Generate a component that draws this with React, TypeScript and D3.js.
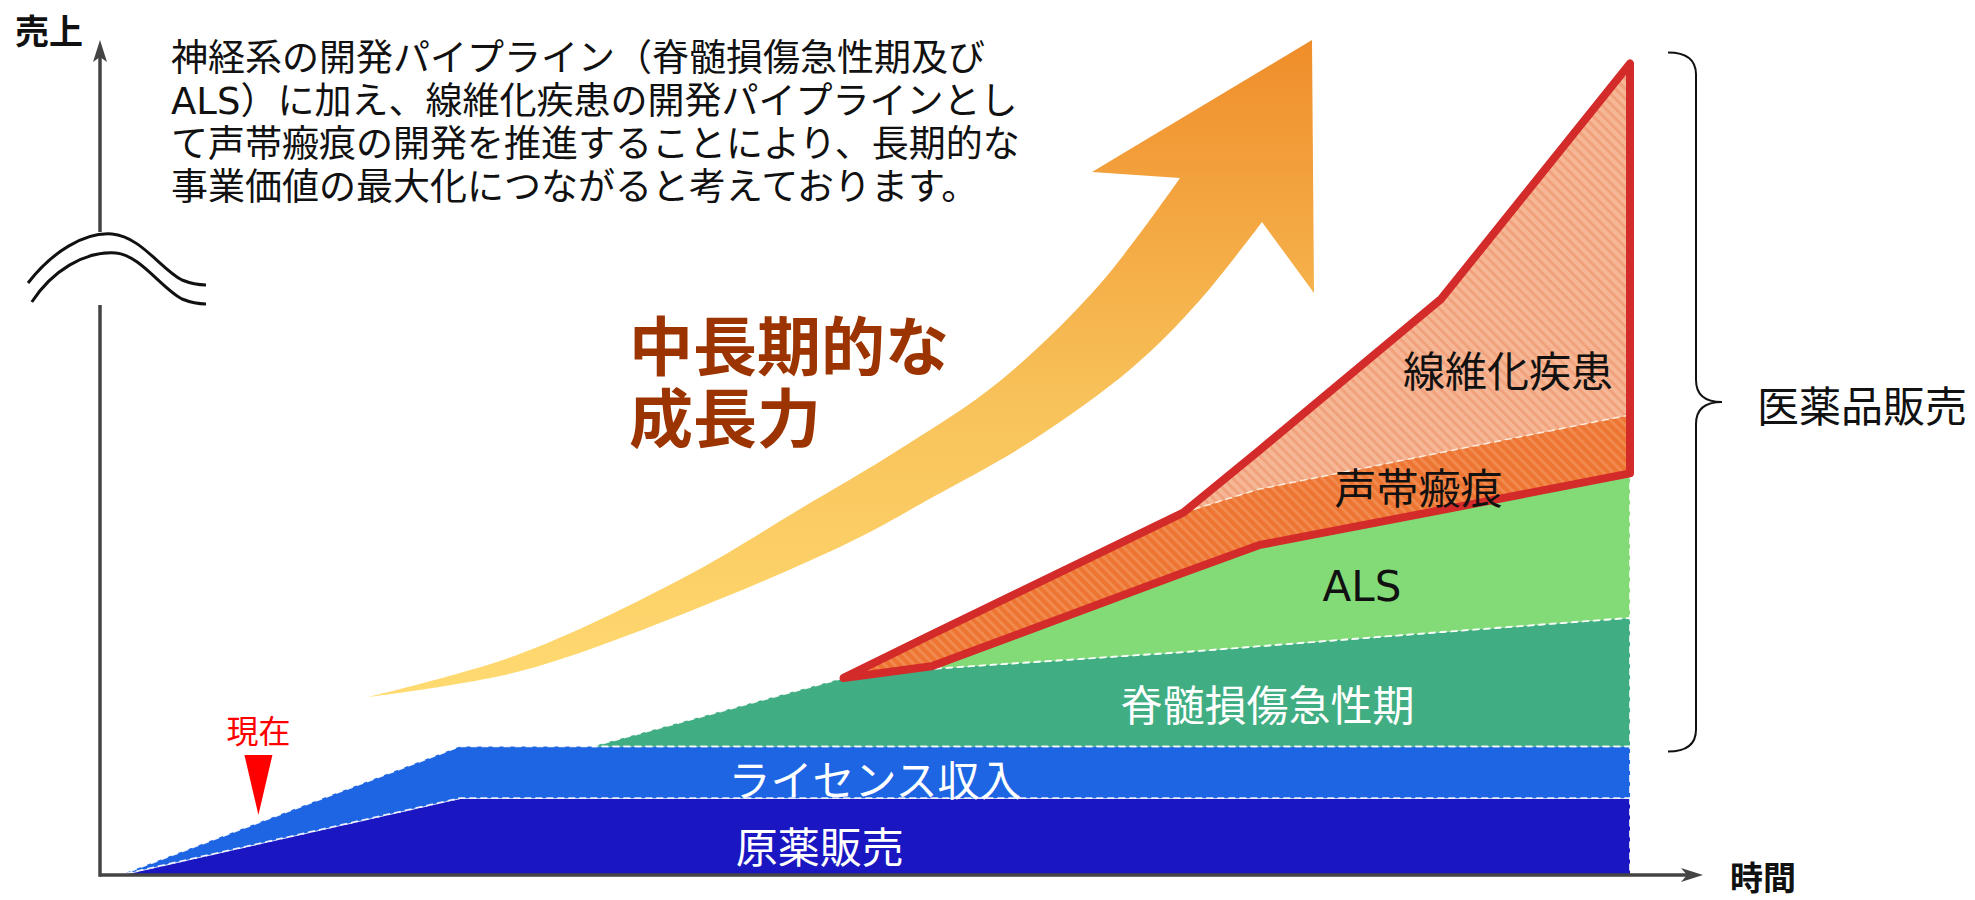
import React, { useEffect, useRef } from 'react';
import * as d3 from 'd3';

// time axis (arbitrary periods) and stacked sales per segment
const periods = [0, 2.7, 3.75, 5.75, 6.45, 8.45, 9.05, 10.5, 12];
const apiSales = [0, 9.2, 9.2, 9.2, 9.2, 9.2, 9.2, 9.2, 9.2];
const licenseIncome = [0, 6.2, 6.2, 6.2, 6.2, 6.2, 6.2, 6.2, 6.2];
const spinalAcute = [0, 0, 0, 8.2, 9.3, 11.3, 12.0, 13.7, 15.4];
const alsSales = [0, 0, 0, 0, 0.3, 9.5, 12.1, 14.6, 17.3];
const vocalScar = [0, 0, 0, 0, 3.8, 7.2, 6.7, 6.9, 7.0];
const fibrosis = [0, 0, 0, 0, 0, 0, 4.6, 18.4, 42.1];

const layerKeys = ['原薬販売', 'ライセンス収入', '脊髄損傷急性期', 'ALS', '声帯瘢痕', '線維化疾患'];
const layerValues = [apiSales, licenseIncome, spinalAcute, alsSales, vocalScar, fibrosis];

const nowPeriod = 1.1;

const descLines = [
  '神経系の開発パイプライン（脊髄損傷急性期及び',
  'ALS）に加え、線維化疾患の開発パイプラインとし',
  'て声帯瘢痕の開発を推進することにより、長期的な',
  '事業価値の最大化につながると考えております。',
];
const headline = ['中長期的な', '成長力'];

const W = 1975, H = 900;
const JP = "'Noto Sans CJK JP', sans-serif";
const MIX = "'DejaVu Sans', 'Noto Sans CJK JP', sans-serif";

export default function App() {
  const ref = useRef<SVGSVGElement>(null);

  useEffect(() => {
    const svg = d3.select(ref.current);
    svg.selectAll('*').remove();

    const x = d3.scaleLinear().domain([0, 12]).range([120, 1630]);
    const y = d3.scaleLinear().domain([0, 100]).range([875, 40]);
    const axisX = 100;

    const defs = svg.append('defs');
    const grad = defs.append('linearGradient')
      .attr('id', 'arrowGrad')
      .attr('gradientUnits', 'userSpaceOnUse')
      .attr('x1', 0).attr('y1', 40).attr('x2', 0).attr('y2', 700);
    grad.append('stop').attr('offset', '0%').attr('stop-color', '#ef8d2a');
    grad.append('stop').attr('offset', '55%').attr('stop-color', '#f8c25a');
    grad.append('stop').attr('offset', '100%').attr('stop-color', '#ffdb72');

    const hatch = (id: string, base: string, stripe: string) => {
      const p = defs.append('pattern')
        .attr('id', id)
        .attr('patternUnits', 'userSpaceOnUse')
        .attr('width', 7).attr('height', 7)
        .attr('patternTransform', 'rotate(-45)');
      p.append('rect').attr('width', 7).attr('height', 7).attr('fill', base);
      p.append('rect').attr('width', 3).attr('height', 7).attr('fill', stripe);
    };
    hatch('hatchVocal', '#ee7431', '#f18a4e');
    hatch('hatchFibro', '#f5b795', '#f1a27d');

    const fills = ['#1a16c1', '#1e65e3', '#40ae82', '#83db77', 'url(#hatchVocal)', 'url(#hatchFibro)'];

    const rows = periods.map((p, i) => {
      const r: any = { period: p };
      layerKeys.forEach((k, j) => { r[k] = layerValues[j][i]; });
      return r;
    });
    const series = d3.stack().keys(layerKeys)(rows as any);

    const area = d3.area<any>()
      .x(d => x(d.data.period))
      .y0(d => y(d[0]))
      .y1(d => y(d[1]));

    // keep only the points where a layer exists (or touches its neighbours)
    const visible = (vals: number[]) =>
      vals.map((v, i) => v > 0 || (vals[i - 1] ?? 0) > 0 || (vals[i + 1] ?? 0) > 0);

    series.forEach((s, j) => {
      const keep = visible(layerValues[j]);
      const pts = s.filter((_, i) => keep[i]);
      svg.append('path')
        .attr('d', area(pts))
        .attr('fill', fills[j])
        .attr('stroke', j < 4 ? '#ffffff' : 'none')
        .attr('stroke-width', 1.8)
        .attr('stroke-dasharray', '7 4')
        .attr('stroke-opacity', 0.9);
    });

    // boundary between 声帯瘢痕 and 線維化疾患
    const keepF = visible(fibrosis);
    const line = d3.line<any>().x(d => x(d.data.period)).y(d => y(d[1]));
    svg.append('path')
      .attr('d', line(series[4].filter((_, i) => keepF[i])))
      .attr('fill', 'none')
      .attr('stroke', '#fff3e8')
      .attr('stroke-width', 1.6)
      .attr('stroke-dasharray', '7 4')
      .attr('stroke-opacity', 0.85);

    // red outline round the two new pipelines
    const keepVocal = visible(vocalScar);
    const outlinePts = periods.map((_, i) => i).filter(i => keepVocal[i] || keepF[i]);
    const outline = d3.area<number>()
      .x(i => x(periods[i]))
      .y0(i => y(series[3][i][1]))
      .y1(i => y(series[5][i][1]));
    svg.append('path')
      .attr('d', outline(outlinePts))
      .attr('fill', 'none')
      .attr('stroke', '#d32a2a')
      .attr('stroke-width', 8)
      .attr('stroke-linejoin', 'round');

    // segment labels
    const labels = [
      { text: '原薬販売', t: 5.56, v: 3.7, color: '#fff' },
      { text: 'ライセンス収入', t: 6.0, v: 11.7, color: '#fff' },
      { text: '脊髄損傷急性期', t: 9.12, v: 20.6, color: '#fff' },
      { text: 'ALS', t: 9.87, v: 34.6, color: '#111' },
      { text: '声帯瘢痕', t: 10.32, v: 46.6, color: '#111' },
      { text: '線維化疾患', t: 11.03, v: 60.6, color: '#111' },
    ];
    labels.forEach(l => {
      svg.append('text')
        .attr('x', x(l.t))
        .attr('y', y(l.v))
        .attr('text-anchor', 'middle')
        .attr('dominant-baseline', 'central')
        .attr('fill', l.color)
        .style('font-family', l.text === 'ALS' ? MIX : JP)
        .style('font-size', '42px')
        .text(l.text);
    });

    // growth arrow
    const upperEdge: [number, number][] = [
      [368, 697], [517, 655], [683, 578], [800, 509], [900, 449], [1000, 381], [1100, 284], [1180, 178],
    ];
    const lowerEdge: [number, number][] = [
      [1262, 222], [1200, 300], [1133, 367], [1033, 440], [933, 497], [850, 542], [683, 614], [517, 672], [368, 697],
    ];
    const edge = d3.line().curve(d3.curveCatmullRom.alpha(0.5));
    const arrowPath = (edge(upperEdge) as string)
      + 'L1092,172L1312,40L1314,293'
      + (edge(lowerEdge) as string).replace(/^M/, 'L') + 'Z';
    svg.append('path').attr('d', arrowPath).attr('fill', 'url(#arrowGrad)');

    headline.forEach((t, i) => {
      svg.append('text')
        .attr('x', 629)
        .attr('y', 342 + i * 72)
        .attr('dominant-baseline', 'central')
        .attr('fill', '#9b3400')
        .style('font-family', JP)
        .style('font-weight', 700)
        .style('font-size', '64px')
        .text(t);
    });

    descLines.forEach((t, i) => {
      svg.append('text')
        .attr('x', 171)
        .attr('y', 71 + i * 43)
        .attr('fill', '#111')
        .style('font-family', MIX)
        .style('font-size', '37px')
        .text(t);
    });

    // axes
    const axisColor = '#444';
    svg.append('line')
      .attr('x1', axisX).attr('y1', y(0)).attr('x2', 1690).attr('y2', y(0))
      .attr('stroke', axisColor).attr('stroke-width', 3.5);
    svg.append('path')
      .attr('d', `M1703,${y(0)}L1681,${y(0) - 7}L1687,${y(0)}L1681,${y(0) + 7}Z`)
      .attr('fill', axisColor);
    svg.append('line')
      .attr('x1', axisX).attr('y1', y(0) + 1.75).attr('x2', axisX).attr('y2', 305)
      .attr('stroke', axisColor).attr('stroke-width', 3.5);
    svg.append('line')
      .attr('x1', axisX).attr('y1', 232).attr('x2', axisX).attr('y2', 55)
      .attr('stroke', axisColor).attr('stroke-width', 3.5);
    svg.append('path')
      .attr('d', `M${axisX},40L${axisX - 7},62L${axisX},57L${axisX + 7},62Z`)
      .attr('fill', axisColor);

    // axis break mark (two wavy strokes)
    [0, 19].forEach(dy => {
      svg.append('path')
        .attr('d', `M${28 + dy / 5},${283 + dy}C52,${252 + dy} 84,${232 + dy} ${112 + dy / 5},${234 + dy}`
          + `C140,${236 + dy} 162,${270 + dy} 182,${280 + dy}C192,${284 + dy} 200,${285 + dy} 206,${285 + dy}`)
        .attr('fill', 'none')
        .attr('stroke', '#111')
        .attr('stroke-width', 3);
    });

    svg.append('text')
      .attr('x', 15).attr('y', 29)
      .attr('dominant-baseline', 'central')
      .attr('fill', '#111')
      .style('font-family', JP).style('font-weight', 700).style('font-size', '34px')
      .text('売上');
    svg.append('text')
      .attr('x', 1730).attr('y', 876)
      .attr('dominant-baseline', 'central')
      .attr('fill', '#111')
      .style('font-family', JP).style('font-weight', 700).style('font-size', '33px')
      .text('時間');

    // "now" marker
    const nx = x(nowPeriod);
    svg.append('text')
      .attr('x', nx).attr('y', 729)
      .attr('text-anchor', 'middle')
      .attr('dominant-baseline', 'central')
      .attr('fill', '#ff0000')
      .style('font-family', JP).style('font-size', '32px')
      .text('現在');
    svg.append('path')
      .attr('d', `M${nx - 14},755L${nx + 14},755L${nx},815Z`)
      .attr('fill', '#ff0000');

    // brace for pharma products
    const last = periods.length - 1;
    const top = y(series[5][last][1]) - 11;
    const bot = y(series[1][last][1]) + 5;
    const mid = (top + bot) / 2;
    const b0 = 1668, b1 = 1696, b2 = 1722, r = 22;
    svg.append('path')
      .attr('d', `M${b0},${top}Q${b1},${top} ${b1},${top + r}L${b1},${mid - r}Q${b1},${mid} ${b2},${mid}`
        + `Q${b1},${mid} ${b1},${mid + r}L${b1},${bot - r}Q${b1},${bot} ${b0},${bot}`)
      .attr('fill', 'none')
      .attr('stroke', '#111')
      .attr('stroke-width', 2);
    svg.append('text')
      .attr('x', 1757).attr('y', mid + 2)
      .attr('dominant-baseline', 'central')
      .attr('fill', '#111')
      .style('font-family', JP).style('font-size', '42px')
      .text('医薬品販売');
  }, []);

  return (
    <svg
      ref={ref}
      width={W}
      height={H}
      style={{ position: 'absolute', left: 0, top: 0, background: '#ffffff' }}
    />
  );
}
